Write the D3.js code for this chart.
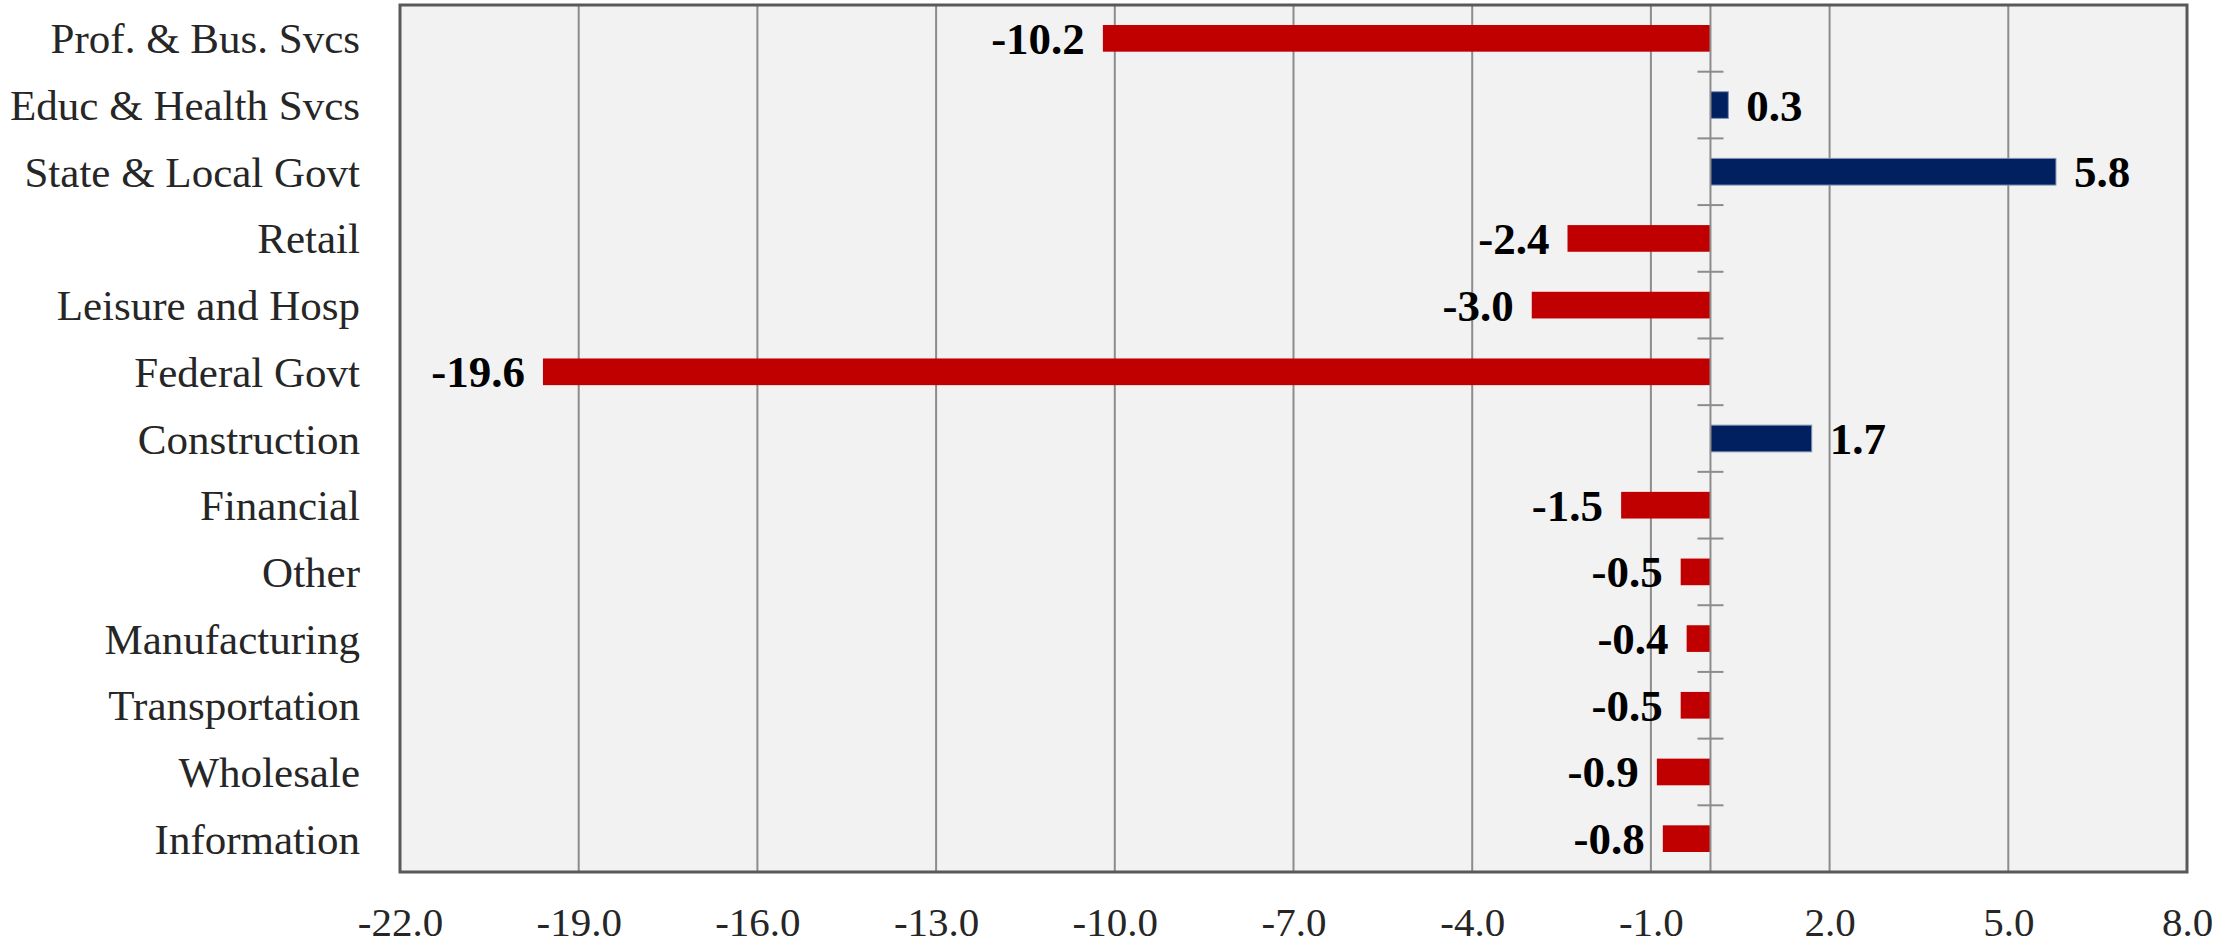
<!DOCTYPE html>
<html>
<head>
<meta charset="utf-8">
<script src="https://cdn.jsdelivr.net/npm/d3@7"></script>
<style>
  html, body { margin: 0; padding: 0; background: #ffffff; }
  svg { display: block; }
  .cat-label  { font-family: "Liberation Serif", serif; font-size: 43px; fill: #262626; }
  .tick-label { font-family: "Liberation Serif", serif; font-size: 41px; fill: #262626; }
  .val-label  { font-family: "Liberation Serif", serif; font-size: 45px; font-weight: bold; fill: #000000; }
</style>
</head>
<body>
<svg id="chart" width="2236" height="946"></svg>
<script>
// Sectors, top to bottom, and their change (thousands)
const categories = [
  'Prof. & Bus. Svcs', 'Educ & Health Svcs', 'State & Local Govt', 'Retail',
  'Leisure and Hosp', 'Federal Govt', 'Construction', 'Financial', 'Other',
  'Manufacturing', 'Transportation', 'Wholesale', 'Information'
];
const values = [-10.2, 0.3, 5.8, -2.4, -3.0, -19.6, 1.7, -1.5, -0.5, -0.4, -0.5, -0.9, -0.8];
const xTicks = [-22, -19, -16, -13, -10, -7, -4, -1, 2, 5, 8];

const W = 2236, H = 946;
const M = { left: 400, right: 49, top: 5, bottom: 74 };

const svg = d3.select('#chart');

const x = d3.scaleLinear()
  .domain([xTicks[0], xTicks[xTicks.length - 1]])
  .range([M.left, W - M.right]);

const y = d3.scaleBand()
  .domain(categories)
  .range([M.top, H - M.bottom])
  .paddingInner(0.6)
  .paddingOuter(0.3);

const rows = categories.map((c, i) => ({ cat: c, v: values[i] }));
const y0 = M.top, y1 = H - M.bottom;

/* ── Plot background ───────────────────────────────── */
svg.append('rect')
  .attr('x', x.range()[0]).attr('y', y0)
  .attr('width', x.range()[1] - x.range()[0]).attr('height', y1 - y0)
  .attr('fill', '#f2f2f2');

/* ── Vertical gridlines ────────────────────────────── */
svg.append('g')
  .selectAll('line')
  .data(xTicks.slice(1, -1))
  .join('line')
    .attr('x1', d => x(d)).attr('x2', d => x(d))
    .attr('y1', y0).attr('y2', y1)
    .attr('stroke', '#8c8c8c')
    .attr('stroke-width', 2);

/* ── Bars ──────────────────────────────────────────── */
svg.append('g')
  .selectAll('rect')
  .data(rows)
  .join('rect')
    .attr('x', d => x(Math.min(0, d.v)))
    .attr('y', d => y(d.cat))
    .attr('width', d => Math.abs(x(d.v) - x(0)))
    .attr('height', y.bandwidth())
    .attr('fill', d => d.v < 0 ? '#c00000' : '#002060')
    .attr('stroke', d => d.v < 0 ? 'none' : '#7f93b8')
    .attr('stroke-width', 1);

/* ── Zero axis with category separator ticks ───────── */
const zx = x(0);
svg.append('line')
  .attr('x1', zx).attr('x2', zx)
  .attr('y1', y0).attr('y2', y1)
  .attr('stroke', '#8c8c8c')
  .attr('stroke-width', 2);

const bounds = d3.range(categories.length + 1).map(i => y0 + i * y.step());
svg.append('g')
  .selectAll('line')
  .data(bounds)
  .join('line')
    .attr('x1', zx - 13).attr('x2', zx + 13)
    .attr('y1', d => d).attr('y2', d => d)
    .attr('stroke', '#8c8c8c')
    .attr('stroke-width', 2);

/* ── Plot border ───────────────────────────────────── */
svg.append('rect')
  .attr('x', x.range()[0]).attr('y', y0)
  .attr('width', x.range()[1] - x.range()[0]).attr('height', y1 - y0)
  .attr('fill', 'none')
  .attr('stroke', '#595959')
  .attr('stroke-width', 3);

/* ── Value labels ──────────────────────────────────── */
svg.append('g')
  .selectAll('text')
  .data(rows)
  .join('text')
    .attr('class', 'val-label')
    .attr('x', d => d.v < 0 ? x(d.v) - 18 : x(d.v) + 18)
    .attr('y', d => y(d.cat) + y.bandwidth() / 2 + 15.5)
    .attr('text-anchor', d => d.v < 0 ? 'end' : 'start')
    .text(d => d.v.toFixed(1));

/* ── Category labels ───────────────────────────────── */
const yAxis = d3.axisLeft(y).tickSize(0).tickPadding(0);
const gy = svg.append('g')
  .attr('transform', `translate(${M.left - 40},0)`)
  .call(yAxis);
gy.select('.domain').remove();
gy.selectAll('text')
  .attr('class', 'cat-label')
  .attr('font-family', null).attr('font-size', null).attr('fill', null)
  .attr('dy', null)
  .attr('y', 15);

/* ── X tick labels ─────────────────────────────────── */
const xAxis = d3.axisBottom(x)
  .tickValues(xTicks)
  .tickSize(0)
  .tickPadding(0)
  .tickFormat(d => d.toFixed(1));
const gx = svg.append('g')
  .attr('transform', `translate(0,${y1})`)
  .call(xAxis);
gx.select('.domain').remove();
gx.selectAll('text')
  .attr('class', 'tick-label')
  .attr('font-family', null).attr('font-size', null).attr('fill', null)
  .attr('dy', null)
  .attr('y', 936 - y1);
</script>
</body>
</html>
